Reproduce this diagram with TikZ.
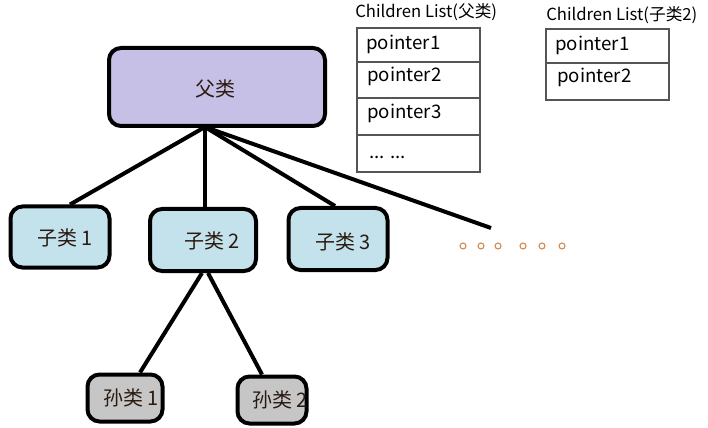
\documentclass[tikz,border=0pt]{standalone}
\usepackage{fontspec}
\setmainfont{Noto Sans CJK SC}
\begin{document}
\begin{tikzpicture}[x=0.75pt,y=-0.75pt,
  nodebox/.style={draw=black,line width=3pt,rounded corners=9pt,inner sep=0pt},
  parentbox/.style={nodebox,fill=parentfill},
  childbox/.style={nodebox,fill=childfill},
  grandbox/.style={nodebox,fill=grandfill},
  link/.style={line width=3pt,black},
  cell/.style={draw=cellline,line width=1.1pt},
  celltext/.style={anchor=west,font=\fontsize{14pt}{16pt}\selectfont,inner sep=0pt},
  title/.style={anchor=west,font=\fontsize{12.5pt}{14pt}\selectfont,inner sep=0pt},
  boxtext/.style={font=\fontsize{15pt}{17pt}\selectfont,text=boxtextc},
  dot/.style={draw=dotc,line width=0.8pt,fill=white,circle,inner sep=0pt,minimum size=4.5pt}
]
\definecolor{parentfill}{HTML}{C6BFE6}
\definecolor{childfill}{HTML}{C3E2EC}
\definecolor{grandfill}{HTML}{C6C6C6}
\definecolor{cellline}{HTML}{555555}
\definecolor{boxtextc}{HTML}{2A1A10}
\definecolor{dotc}{HTML}{D08A50}
\useasboundingbox (0,0) rectangle (708,428);

% parent
\node[parentbox,minimum width=216*0.75pt,minimum height=78*0.75pt] (p) at (217,87) {};
\node[boxtext] (pt) at (215,89) {父类};

% children
\node[childbox,minimum width=99*0.75pt,minimum height=61*0.75pt] (c1) at (60,237) {};
\node[boxtext] (c1t) at (65,238) {子类 1};
\node[childbox,minimum width=106*0.75pt,minimum height=62*0.75pt] (c2) at (203,240) {};
\node[boxtext] (c2t) at (212,241) {子类 2};
\node[childbox,minimum width=99*0.75pt,minimum height=62*0.75pt] (c3) at (338,239) {};
\node[boxtext] (c3t) at (343,242) {子类 3};

% grandchildren
\node[grandbox,minimum width=75*0.75pt,minimum height=47*0.75pt] (g1) at (125,398) {};
\node[boxtext] (g1t) at (131,398) {孙类 1};
\node[grandbox,minimum width=69*0.75pt,minimum height=47*0.75pt] (g2) at (272,400) {};
\node[boxtext] (g2t) at (280,400) {孙类 2};

% connectors
\coordinate (pb) at (205,127);
\coordinate (free) at (491,228);
\draw[link] (pb) -- (c1.north -| 70,0);
\draw[link] (pb) -- (c2.north -| 205,0);
\draw[link] (pb) -- (c3.north -| 335,0);
\draw[link] (pb) -- (free);
\draw[link] (c2.south -| 202,0) -- (g1.north -| 140,0);
\draw[link] (c2.south -| 208,0) -- (g2.north -| 262,0);

% dots
\foreach \i/\xx in {1/463,2/481,3/498,4/523,5/542,6/562}{
  \node[dot] (d\i) at (\xx,246) {};
}

% list 1
\node[title] (l1) at (355,12) {Children List(父类)};
\draw[cell] (357,28) rectangle (480,62);
\draw[cell] (357,62) rectangle (480,98);
\draw[cell] (357,98) rectangle (480,135);
\draw[cell] (357,135) rectangle (480,172);
\node[celltext] (a1) at (366,44) {pointer1};
\node[celltext] (a2) at (367,76) {pointer2};
\node[celltext] (a3) at (367,113) {pointer3};
\node[celltext] (a4) at (369,157) {... ...};

% list 2
\node[title] (l2) at (546,15) {Children List(子类2)};
\draw[cell] (546,29) rectangle (669,63);
\draw[cell] (546,63) rectangle (669,100);
\node[celltext] (b1) at (555,45) {pointer1};
\node[celltext] (b2) at (557,77) {pointer2};
\end{tikzpicture}
\end{document}
